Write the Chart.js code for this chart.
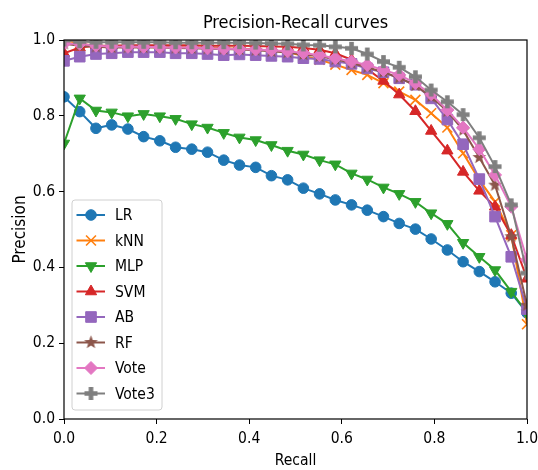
<!DOCTYPE html>
<html>
<head>
<meta charset="utf-8">
<script src="https://cdn.jsdelivr.net/npm/chart.js@4.4.0/dist/chart.umd.min.js"></script>
<style>
  html, body { margin: 0; padding: 0; background: #fff; }
</style>
</head>
<body>
<canvas id="prChart" width="538" height="470"></canvas>
<script>
// recall thresholds shared by all curves
const recall = [0, 0.034, 0.069, 0.103, 0.138, 0.172, 0.207, 0.241, 0.276, 0.31,
  0.345, 0.379, 0.414, 0.448, 0.483, 0.517, 0.552, 0.586, 0.621, 0.655,
  0.69, 0.724, 0.759, 0.793, 0.828, 0.862, 0.897, 0.931, 0.966, 1.0];

const lrPrecision = [0.850, 0.811, 0.767, 0.776, 0.765, 0.745, 0.734, 0.717, 0.712, 0.704,
  0.683, 0.670, 0.664, 0.642, 0.631, 0.609, 0.594, 0.578, 0.565, 0.551,
  0.534, 0.516, 0.501, 0.475, 0.446, 0.415, 0.389, 0.362, 0.332, 0.28];
const knnPrecision = [1.0, 0.99, 0.985, 0.983, 0.983, 0.983, 0.982, 0.982, 0.98, 0.98,
  0.978, 0.977, 0.975, 0.972, 0.968, 0.958, 0.948, 0.935, 0.921, 0.908,
  0.886, 0.864, 0.842, 0.807, 0.769, 0.701, 0.631, 0.573, 0.485, 0.25];
const mlpPrecision = [0.727, 0.846, 0.814, 0.809, 0.799, 0.805, 0.799, 0.792, 0.778, 0.769,
  0.755, 0.743, 0.736, 0.723, 0.708, 0.698, 0.683, 0.672, 0.648, 0.632,
  0.611, 0.594, 0.573, 0.543, 0.515, 0.465, 0.428, 0.393, 0.336, 0.28];
const svmPrecision = [0.965, 0.98, 0.985, 0.985, 0.986, 0.986, 0.986, 0.986, 0.986, 0.985,
  0.985, 0.985, 0.984, 0.983, 0.982, 0.979, 0.974, 0.965, 0.948, 0.923,
  0.892, 0.856, 0.812, 0.76, 0.708, 0.652, 0.602, 0.56, 0.485, 0.37];
const abPrecision = [0.945, 0.956, 0.963, 0.965, 0.968, 0.968, 0.968, 0.965, 0.965, 0.963,
  0.96, 0.962, 0.96, 0.958, 0.956, 0.952, 0.95, 0.943, 0.937, 0.925,
  0.915, 0.899, 0.882, 0.846, 0.79, 0.725, 0.633, 0.534, 0.428, 0.29];
const rfPrecision = [0.99, 0.985, 0.982, 0.98, 0.98, 0.98, 0.98, 0.979, 0.978, 0.977,
  0.976, 0.975, 0.973, 0.97, 0.967, 0.962, 0.957, 0.949, 0.939, 0.928,
  0.915, 0.9, 0.88, 0.85, 0.812, 0.762, 0.69, 0.617, 0.481, 0.3];
const votePrecision = [0.99, 0.99, 0.985, 0.983, 0.982, 0.982, 0.981, 0.98, 0.98, 0.978,
  0.977, 0.976, 0.975, 0.973, 0.97, 0.966, 0.96, 0.952, 0.943, 0.934,
  0.921, 0.908, 0.886, 0.857, 0.815, 0.769, 0.712, 0.644, 0.56, 0.42];
const vote3Precision = [1.0, 0.996, 0.994, 0.994, 0.994, 0.994, 0.994, 0.993, 0.993, 0.993,
  0.993, 0.993, 0.992, 0.991, 0.99, 0.987, 0.986, 0.982, 0.978, 0.963,
  0.943, 0.928, 0.903, 0.868, 0.837, 0.803, 0.742, 0.666, 0.565, 0.385];

const seriesNames = ['LR', 'kNN', 'MLP', 'SVM', 'AB', 'RF', 'Vote', 'Vote3'];
const seriesValues = [lrPrecision, knnPrecision, mlpPrecision, svmPrecision,
  abPrecision, rfPrecision, votePrecision, vote3Precision];
const seriesColors = ['#1f77b4', '#ff7f0e', '#2ca02c', '#d62728',
  '#9467bd', '#8c564b', '#e377c2', '#7f7f7f'];
const axisTicks = [0, 0.2, 0.4, 0.6, 0.8, 1.0];
const chartTitle = 'Precision-Recall curves';

const FONT = "'DejaVu Sans Condensed', 'DejaVu Sans', sans-serif";

// filled star / thick plus markers, which Chart.js has no built-in style for
function markerImage(shape, color) {
  const c = document.createElement('canvas');
  c.width = 17; c.height = 17;
  const g = c.getContext('2d');
  g.translate(8.5, 8.5);
  g.fillStyle = color;
  g.beginPath();
  if (shape === 'star') {
    for (let i = 0; i < 10; i++) {
      const r = i % 2 ? 3 : 7.2;
      const a = -Math.PI / 2 + i * Math.PI / 5;
      g.lineTo(r * Math.cos(a), r * Math.sin(a));
    }
  } else {
    const a = 2.3, b = 6.5;
    g.moveTo(-a, -b); g.lineTo(a, -b); g.lineTo(a, -a); g.lineTo(b, -a);
    g.lineTo(b, a); g.lineTo(a, a); g.lineTo(a, b); g.lineTo(-a, b);
    g.lineTo(-a, a); g.lineTo(-b, a); g.lineTo(-b, -a); g.lineTo(-a, -a);
  }
  g.closePath();
  g.fill();
  return c;
}

const markers = [
  { pointStyle: 'circle', radius: 5.3, rotation: 0, borderWidth: 1 },
  { pointStyle: 'crossRot', radius: 7, rotation: 0, borderWidth: 1.6 },
  { pointStyle: 'triangle', radius: 6.5, rotation: 180, borderWidth: 1 },
  { pointStyle: 'triangle', radius: 6.5, rotation: 0, borderWidth: 1 },
  { pointStyle: 'rect', radius: 7.5, rotation: 0, borderWidth: 1 },
  { pointStyle: markerImage('star', seriesColors[5]), radius: 7, rotation: 0, borderWidth: 0 },
  { pointStyle: 'rectRot', radius: 6.5, rotation: 0, borderWidth: 1 },
  { pointStyle: markerImage('plus', seriesColors[7]), radius: 7, rotation: 0, borderWidth: 0 }
];

const datasets = seriesNames.map((name, i) => ({
  label: name,
  data: recall.map((r, k) => ({ x: r, y: seriesValues[i][k] })),
  borderColor: seriesColors[i],
  backgroundColor: seriesColors[i],
  pointBackgroundColor: seriesColors[i],
  pointBorderColor: seriesColors[i],
  pointStyle: markers[i].pointStyle,
  pointRadius: markers[i].radius,
  pointRotation: markers[i].rotation,
  pointBorderWidth: markers[i].borderWidth,
  borderWidth: 2,
  tension: 0,
  order: seriesNames.length - i
}));

// matplotlib-style frame on all four sides, title centred over the axes
const frame = {
  id: 'frame',
  afterDatasetsDraw(chart) {
    const { ctx, chartArea: a } = chart;
    ctx.save();
    ctx.strokeStyle = '#000';
    ctx.lineWidth = 1.2;
    ctx.strokeRect(a.left, a.top, a.right - a.left, a.bottom - a.top);
    ctx.fillStyle = '#000';
    ctx.font = '18px ' + FONT;
    ctx.textAlign = 'center';
    ctx.textBaseline = 'middle';
    ctx.fillText(chartTitle, (a.left + a.right) / 2, 23);
    ctx.restore();
  }
};

// legend box in the lower-left corner of the plot
const cornerLegend = {
  id: 'cornerLegend',
  afterDraw(chart) {
    const { ctx, chartArea: a } = chart;
    const rowH = 25.5;
    const boxW = 90, boxH = seriesNames.length * rowH + 6;
    const left = a.left + 8, top = a.bottom - 9 - boxH;
    ctx.save();
    ctx.beginPath();
    ctx.roundRect(left, top, boxW, boxH, 3);
    ctx.fillStyle = 'rgba(255,255,255,0.8)';
    ctx.fill();
    ctx.strokeStyle = '#d0d0d0';
    ctx.lineWidth = 1;
    ctx.stroke();
    const drawPoint = Chart.helpers && Chart.helpers.drawPoint;
    seriesNames.forEach((name, i) => {
      const cy = top + 15 + i * rowH;
      ctx.strokeStyle = seriesColors[i];
      ctx.fillStyle = seriesColors[i];
      ctx.lineWidth = 2;
      ctx.beginPath();
      ctx.moveTo(left + 4.5, cy);
      ctx.lineTo(left + 33, cy);
      ctx.stroke();
      if (drawPoint) {
        ctx.lineWidth = markers[i].borderWidth;
        drawPoint(ctx, markers[i], left + 19, cy);
      }
      ctx.fillStyle = '#000';
      ctx.font = '15.5px ' + FONT;
      ctx.textBaseline = 'middle';
      ctx.textAlign = 'left';
      ctx.fillText(name, left + 43, cy + 1);
    });
    ctx.restore();
  }
};

function fixedTicks(scale) {
  scale.ticks = axisTicks.map(v => ({ value: v }));
}

Chart.defaults.font.family = FONT;
Chart.defaults.color = '#000';

new Chart(document.getElementById('prChart').getContext('2d'), {
  type: 'line',
  data: { datasets },
  options: {
    responsive: false,
    animation: false,
    devicePixelRatio: 1,
    layout: { padding: { left: 0, right: 11, top: 40, bottom: 0 } },
    plugins: {
      legend: { display: false },
      tooltip: { enabled: false },
      title: { display: false }
    },
    scales: {
      x: {
        type: 'linear',
        min: 0, max: 1,
        afterBuildTicks: fixedTicks,
        afterFit(scale) {
          scale.height = 51;
          scale.paddingLeft = 0;
          scale.paddingRight = 0;
        },
        border: { display: false },
        grid: { drawOnChartArea: false, drawTicks: true, tickLength: 5, color: '#000' },
        ticks: { font: { size: 15.5 }, padding: 6, maxRotation: 0, callback: v => v.toFixed(1) },
        title: { display: true, text: 'Recall', font: { size: 15.5 }, padding: { top: 0, bottom: 0 } }
      },
      y: {
        type: 'linear',
        min: 0, max: 1,
        afterBuildTicks: fixedTicks,
        afterFit(scale) {
          scale.width = 64;
          scale.paddingTop = 0;
          scale.paddingBottom = 0;
        },
        border: { display: false },
        grid: { drawOnChartArea: false, drawTicks: true, tickLength: 5, color: '#000' },
        ticks: { font: { size: 15.5 }, padding: 4, callback: v => v.toFixed(1) },
        title: { display: true, text: 'Precision', font: { size: 17 }, padding: { top: 10, bottom: 0 } }
      }
    }
  },
  plugins: [frame, cornerLegend]
});
</script>
</body>
</html>
